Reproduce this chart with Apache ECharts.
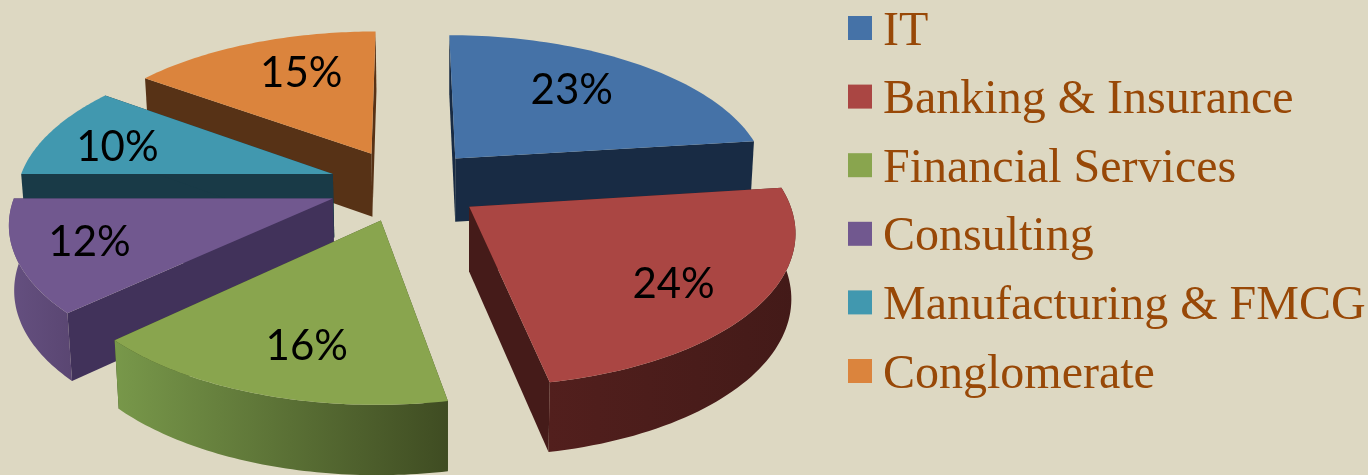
<!DOCTYPE html>
<html><head><meta charset="utf-8">
<style>html,body{margin:0;padding:0;background:#DDD8C2}#c{width:1368px;height:475px}</style>
<script src="https://cdn.jsdelivr.net/npm/echarts@6/dist/echarts.min.js"></script>
</head><body><div id="c"></div>
<script>
const categories = ['IT','Banking & Insurance','Financial Services','Consulting','Manufacturing & FMCG','Conglomerate'];
const shares = [23,24,16,12,10,15];
const topColors = ['#4572A7','#AA4643','#89A54E','#71588F','#4198AF','#DB843D'];
const wallColors = ['#182B44','#451B19','#3F4F25','#41325A','#193A47','#573216'];
const rimStart = ['#182B44','#521F1D','#78984A','#655080','#193A47','#573216'];
const rimEnd = ['#182B44','#431A18','#3F4C22','#5A4672','#193A47','#573216'];
const labelDepth = [0.67,0.746,0.743,0.776,0.74,0.68];
const labelTurn = [-2.8,3,-2.7,0.3,-3.2,4.6];
const drawOrder = [5,0,4,3,1,2];

const view = {cx:405.5, cy:185, R:315, K:147.5, D:7.14, explode:0.245, height:64, vx:450, converge:0.012};
const rad = d => d*Math.PI/180;
const total = shares.reduce((a,b)=>a+b,0);
let acc = 0;
const startDeg = shares.map(v => { const s = acc; acc += v/total*360; return s; });

function project(u,w,down){
  const s = view.D/(view.D+w);
  let x = view.cx + view.R*u*s;
  let y = view.cy - view.K*w*s;
  if(down){ x += (view.vx-x)*view.converge; y += view.height*Math.sqrt(s); }
  return [x,y];
}
function slicePoint(mid,t,r,down){
  const eu = view.explode*Math.sin(rad(mid)), ew = view.explode*Math.cos(rad(mid));
  return project(eu+r*Math.sin(rad(t)), ew+r*Math.cos(rad(t)), down);
}
function renderSlice(i){
  return function(params, api){
    const span = api.value(0)/total*360, a = startDeg[i], mid = a+span/2;
    const top=[], bottom=[], rimTop=[], rimBottom=[];
    for(let k=0;k<=60;k++){
      const t=a+span*k/60;
      const p=slicePoint(mid,t,1,false), q=slicePoint(mid,t,1,true);
      top.push(p); bottom.push(q);
      if(t>=82.5 && t<=270.5){ rimTop.push(p); rimBottom.push(q); }
    }
    const apex=slicePoint(mid,a,0,false), apexD=slicePoint(mid,a,0,true);
    const wall=(p,q)=>({type:'polygon',shape:{points:[apex,p,q,apexD]},style:{fill:wallColors[i]}});
    const lp=slicePoint(mid,mid+labelTurn[i],labelDepth[i],false);
    const children=[wall(top[0],bottom[0]),wall(top[60],bottom[60])];
    if(rimTop.length>1){
      children.push({type:'polygon',shape:{points:rimTop.concat(rimBottom.slice().reverse())},
       style:{fill:new echarts.graphic.LinearGradient(0,0,1,0,[{offset:0,color:rimStart[i]},{offset:1,color:rimEnd[i]}])}});
    }
    children.push({type:'polygon',shape:{points:[apex].concat(top)},style:{fill:topColors[i]}});
    children.push({type:'text',style:{x:lp[0],y:lp[1],text:api.value(0)+'%',align:'center',verticalAlign:'middle',
        fill:'#000',font:'42px Lato, "Open Sans", sans-serif'}});
    return {type:'group',children};
  };
}
const series = categories.map((name,i)=>({
  type:'custom',name,coordinateSystem:'none',data:[[shares[i]]],dimensions:['share'],
  z:2+drawOrder.indexOf(i),silent:true,animation:false,clip:false,
  itemStyle:{color:topColors[i]},renderItem:renderSlice(i)
}));
const chart = echarts.init(document.getElementById('c'),null,{renderer:'canvas'});
chart.setOption({
  backgroundColor:'#DDD8C2',animation:false,
  legend:{show:true,orient:'vertical',left:848,top:0,padding:0,
    itemWidth:24,itemHeight:24,itemGap:12.6,icon:'rect',selectedMode:false,
    formatter:'{s|}{t|{name}}',
    textStyle:{rich:{
      s:{width:6,height:56,lineHeight:56,fontSize:48},
      t:{fontFamily:'"Liberation Serif"',fontSize:48,lineHeight:48,color:'#984807',verticalAlign:'bottom'}
    }},
    data:categories.map((name,i)=>({name,itemStyle:{color:topColors[i]}}))},
  series
});
</script></body></html>
